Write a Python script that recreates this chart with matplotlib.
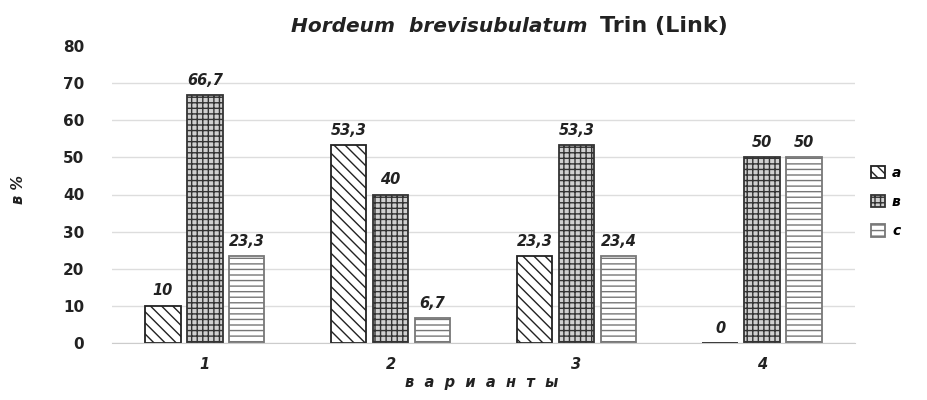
import numpy as np
import matplotlib
matplotlib.use("Agg")
from matplotlib import pyplot as plt

categories = ["1", "2", "3", "4"]
series_names = ["а", "в", "с"]
values_a = [10, 53.3, 23.3, 0]
values_b = [66.7, 40, 53.3, 50]
values_c = [23.3, 6.7, 23.4, 50]
labels_a = ["10", "53,3", "23,3", "0"]
labels_b = ["66,7", "40", "53,3", "50"]
labels_c = ["23,3", "6,7", "23,4", "50"]

plt.rcParams['font.family'] = ['DejaVu Sans']
plt.rcParams['hatch.linewidth'] = 1.0

fig = plt.figure(figsize=(9.27, 4.0), dpi=100)
ax = fig.add_axes([0.1208, 0.1425, 0.8015, 0.7425])

x = np.arange(len(categories))
w = 0.19
step = 0.226
styles = [
    dict(hatch='\\\\\\', facecolor='white', edgecolor='#222222'),
    dict(hatch='+++', facecolor='#d0d0d0', edgecolor='#333333'),
    dict(hatch='---', facecolor='white', edgecolor='#777777'),
]
all_vals = [values_a, values_b, values_c]
all_labels = [labels_a, labels_b, labels_c]
for i in range(3):
    pos = x + (i - 1) * step
    bars = ax.bar(pos, all_vals[i], w, label=series_names[i], linewidth=1.3, **styles[i])
    for b, v, t in zip(bars, all_vals[i], all_labels[i]):
        ax.text(b.get_x() + b.get_width() / 2, v + 2, t, ha='center', va='bottom',
                fontsize=10.5, fontweight='bold', fontstyle='italic', color='#222222')

ax.set_ylim(0, 80)
ax.set_xlim(-0.5, 3.5)
ax.set_yticks(range(0, 81, 10))
ax.set_xticks(x)
ax.set_xticklabels(categories, fontweight='bold', fontstyle='italic', fontsize=10.5)
for lab in ax.get_yticklabels():
    lab.set_fontweight('bold')
    lab.set_fontsize(11)
ax.tick_params(length=0, colors='#222222')
ax.tick_params(axis='x', pad=10)
ax.tick_params(axis='y', pad=20)
ax.grid(axis='y', color='#dddddd', linewidth=1)
ax.yaxis.get_gridlines()[-1].set_visible(False)
ax.set_axisbelow(True)
for s in ['top', 'right', 'left']:
    ax.spines[s].set_visible(False)
ax.spines['bottom'].set_color('#cccccc')

fig.text(0.634, 0.935, "Hordeum  brevisubulatum", ha='right', va='center', fontsize=14.5,
         fontweight='bold', fontstyle='italic', color='#222222')
fig.text(0.647, 0.935, "Trin (Link)", ha='left', va='center', fontsize=16,
         fontweight='bold', color='#222222')
fig.text(0.52, 0.045, "в  а  р  и  а  н  т  ы", ha='center', va='center', fontsize=10.5,
         fontweight='bold', fontstyle='italic', color='#222222')
fig.text(0.02, 0.525, "в %", ha='center', va='center', rotation=90, fontsize=10.5,
         fontweight='bold', fontstyle='italic', color='#222222')

leg = ax.legend(loc='center left', bbox_to_anchor=(1.005, 0.475), frameon=False,
                handlelength=1.0, handleheight=1.0, labelspacing=1.1, handletextpad=0.5,
                prop=dict(weight='bold', style='italic', size=10))

fig.savefig("out.png", dpi=100)
